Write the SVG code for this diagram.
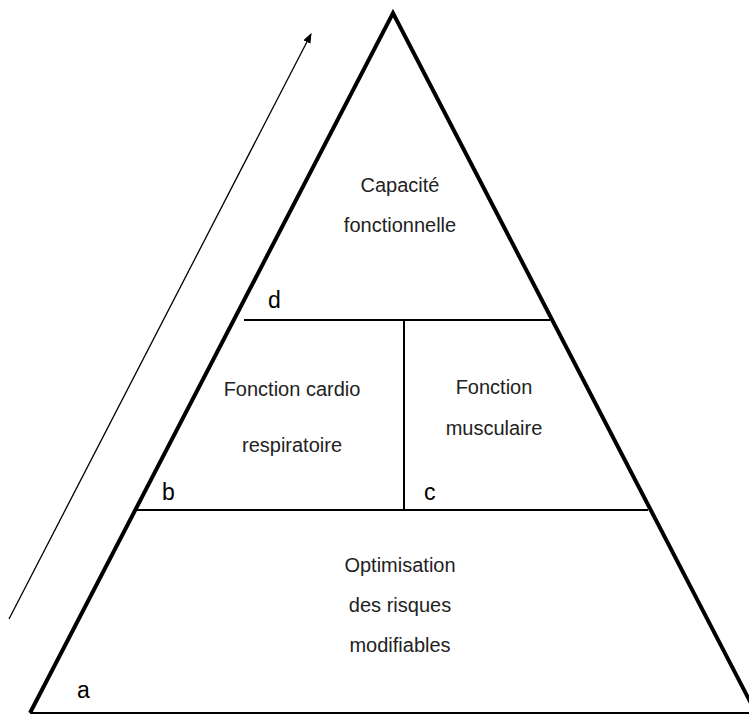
<svg xmlns="http://www.w3.org/2000/svg" width="749" height="715" viewBox="0 0 749 715">
<style>
.side{fill:none;stroke:#000;stroke-width:4;stroke-linejoin:miter}
.div{stroke:#000;stroke-width:2;fill:none}
.lbl{font-family:"Liberation Sans",Arial,sans-serif;font-size:20px;fill:#222;text-anchor:middle}
.let{font-family:"Liberation Sans",Arial,sans-serif;font-size:23px;fill:#000}
.arr{stroke:#000;stroke-width:1.3;fill:none}
</style>
<defs>
<marker id="ah" markerWidth="10" markerHeight="10" refX="9" refY="5" orient="auto" markerUnits="userSpaceOnUse">
<path d="M0,1 L10,5 L0,9 Z" fill="#000"/>
</marker>
</defs>
<rect width="749" height="715" fill="#fff"/>
<g id="connectors">
<line class="arr" x1="9" y1="619" x2="311" y2="34" marker-end="url(#ah)"/>
</g>
<g id="pyramid">
<polyline class="side" points="30,713 393,13 756,713"/>
<line class="div" x1="30" y1="713" x2="749" y2="713"/>
<line class="div" x1="244" y1="320" x2="550" y2="320"/>
<line class="div" x1="404" y1="320" x2="404" y2="510"/>
<line class="div" x1="135" y1="510" x2="648" y2="510"/>
</g>
<g id="node-capacite">
<text class="lbl" x="400" y="192">Capacité</text>
<text class="lbl" x="400" y="232">fonctionnelle</text>
</g>
<g id="node-cardio">
<text class="lbl" x="292" y="396">Fonction cardio</text>
<text class="lbl" x="292" y="452">respiratoire</text>
</g>
<g id="node-musculaire">
<text class="lbl" x="494" y="394">Fonction</text>
<text class="lbl" x="494" y="435">musculaire</text>
</g>
<g id="node-optimisation">
<text class="lbl" x="400" y="572">Optimisation</text>
<text class="lbl" x="400" y="612">des risques</text>
<text class="lbl" x="400" y="652">modifiables</text>
</g>
<g id="letters">
<text class="let" x="77" y="698">a</text>
<text class="let" x="162" y="500">b</text>
<text class="let" x="424" y="500">c</text>
<text class="let" x="268" y="308">d</text>
</g>
</svg>
